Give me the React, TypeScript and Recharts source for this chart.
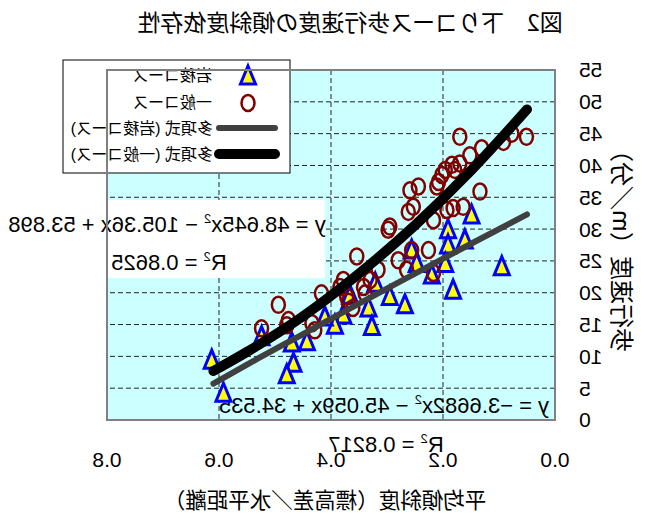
import React from 'react';
import { ScatterChart, Scatter, XAxis, YAxis, CartesianGrid, ReferenceArea, Customized } from 'recharts';

const title = '図2　下りコース歩行速度の傾斜度依存性';
const xAxisTitle = '平均傾斜度（標高差／水平距離）';
const yAxisTitle = '歩行速度（m／分）';
const seriesNames = ['岩稜コース', '一般コース', '多項式 (岩稜コース)', '多項式 (一般コース)'];

const xTicks = [0, 0.2, 0.4, 0.6, 0.8];
const yTicks = [0, 5, 10, 15, 20, 25, 30, 35, 40, 45, 50, 55];

// 岩稜コース (triangles)
const ganryoX = [0.149, 0.191, 0.191, 0.161, 0.256, 0.247, 0.196, 0.22, 0.095, 0.182, 0.295, 0.268, 0.321, 0.366, 0.333, 0.327, 0.378, 0.393, 0.411, 0.443, 0.47, 0.524, 0.467, 0.479, 0.613, 0.592];
const ganryoY = [32.2, 29.9, 27.5, 28.3, 26.7, 24.6, 24.6, 22.8, 24.1, 20.4, 19.4, 18.1, 21.5, 19.6, 17.6, 14.7, 16.5, 14.9, 16.2, 12.3, 12.1, 13.1, 8.9, 7.1, 9.4, 4.2];

// 一般コース (circles)
const ippanX = [0.17, 0.051, 0.077, 0.092, 0.131, 0.152, 0.17, 0.184, 0.179, 0.196, 0.202, 0.208, 0.211, 0.244, 0.259, 0.134, 0.253, 0.262, 0.164, 0.182, 0.193, 0.217, 0.295, 0.298, 0.256, 0.226, 0.28, 0.265, 0.217, 0.354, 0.316, 0.33, 0.342, 0.339, 0.378, 0.384, 0.417, 0.372, 0.369, 0.494, 0.476, 0.479, 0.434, 0.429, 0.524, 0.361];
const ippanY = [44.5, 44.5, 45.0, 43.7, 42.7, 41.6, 40.3, 40.1, 39.3, 39.3, 38.5, 37.4, 36.7, 36.7, 36.1, 35.9, 33.5, 32.7, 33.5, 33.3, 33.0, 31.4, 30.4, 29.9, 26.7, 26.7, 25.1, 23.6, 23.1, 25.7, 23.6, 22.0, 20.9, 19.9, 22.0, 20.9, 19.9, 19.4, 18.6, 18.1, 15.7, 14.9, 15.2, 14.1, 14.4, 17.6];

// trendlines
const trendX = [0.05, 0.15, 0.25, 0.35, 0.45, 0.55, 0.61];
const ganryoTrendY = [32.3, 27.7, 23.0, 18.3, 13.5, 8.7, 5.7];
const ippanTrendY = [48.8, 39.2, 30.6, 23.0, 16.3, 10.7, 7.7];

const ganryoEq = ['y = −3.6682x', ' − 45.059x + 34.535', 'R', ' = 0.8217'];
const ippanEq = ['y = 48.645x', ' − 105.36x + 53.898', 'R', ' = 0.8625'];

const ganryo = ganryoX.map((x, i) => ({ x, y: ganryoY[i] }));
const ippan = ippanX.map((x, i) => ({ x, y: ippanY[i] }));
const ganryoTrend = trendX.map((x, i) => ({ x, y: ganryoTrendY[i] }));
const ippanTrend = trendX.map((x, i) => ({ x, y: ippanTrendY[i] }));

const LATIN = "'Liberation Sans', Arial, 'Noto Sans CJK JP', sans-serif";
const CJK = "'Noto Sans CJK JP', sans-serif";

const Tri = ({ cx, cy }: any) => (
  <polygon
    points={`${cx},${cy - 10} ${cx - 7.5},${cy + 8} ${cx + 7.5},${cy + 8}`}
    fill="#ffff00"
    stroke="#0000ff"
    strokeWidth={3}
  />
);

const Circ = ({ cx, cy }: any) => (
  <ellipse cx={cx} cy={cy} rx={6.5} ry={8} fill="none" stroke="#800000" strokeWidth={2.5} />
);

const Empty = () => <g />;

const Overlay = () => (
  <g>
    {/* title */}
    <text x={297} y={31} textAnchor="middle" fontSize={23} fontFamily={CJK} fill="#000">{title}</text>
    {/* y axis title */}
    <text x={24} y={245} transform="rotate(-90, 24, 245)" textAnchor="middle" dominantBaseline="central" fontSize={24} fontFamily={CJK} fill="#000">{yAxisTitle}</text>
    {/* x axis title */}
    <text x={322} y={508} textAnchor="middle" fontSize={21.5} fontFamily={CJK} fill="#000">{xAxisTitle}</text>

    {/* 一般 equation with white box */}
    <rect x={322} y={200} width={325} height={78} fill="#ffffff" />
    <text x={480} y={232} textAnchor="middle" fontSize={22} fontFamily={LATIN} fill="#000">
      {ippanEq[0]}<tspan fontSize={13} dy={-9}>2</tspan><tspan dy={9}>{ippanEq[1]}</tspan>
    </text>
    <text x={478} y={270} textAnchor="middle" fontSize={22} fontFamily={LATIN} fill="#000">
      {ippanEq[2]}<tspan fontSize={13} dy={-9}>2</tspan><tspan dy={9}>{ippanEq[3]}</tspan>
    </text>

    {/* 岩稜 equation */}
    <text x={263} y={413} textAnchor="middle" fontSize={22} fontFamily={LATIN} fill="#000">
      {ganryoEq[0]}<tspan fontSize={13} dy={-9}>2</tspan><tspan dy={9}>{ganryoEq[1]}</tspan>
    </text>
    <text x={261} y={452} textAnchor="middle" fontSize={22} fontFamily={LATIN} fill="#000">
      {ganryoEq[2]}<tspan fontSize={13} dy={-9}>2</tspan><tspan dy={9}>{ganryoEq[3]}</tspan>
    </text>

    {/* legend */}
    <rect x={357} y={60} width={227} height={113} fill="#ffffff" stroke="#000" strokeWidth={1} />
    <Tri cx={399} cy={76} />
    <text x={435} y={75} dominantBaseline="central" fontSize={16} fontFamily={LATIN} fill="#000">{seriesNames[0]}</text>
    <Circ cx={399} cy={103} />
    <text x={435} y={102} dominantBaseline="central" fontSize={16} fontFamily={LATIN} fill="#000">{seriesNames[1]}</text>
    <line x1={372} y1={128} x2={428} y2={128} stroke="#404040" strokeWidth={6} strokeLinecap="round" />
    <text x={434} y={128} dominantBaseline="central" fontSize={16} fontFamily={LATIN} fill="#000">{seriesNames[2]}</text>
    <line x1={372} y1={154} x2={428} y2={154} stroke="#000000" strokeWidth={10} strokeLinecap="round" />
    <text x={434} y={154} dominantBaseline="central" fontSize={16} fontFamily={LATIN} fill="#000">{seriesNames[3]}</text>
  </g>
);

export default function App() {
  return (
    <div style={{ position: 'absolute', left: 0, top: 0, width: 647, height: 519, background: '#fff', transform: 'scaleX(-1)' }}>
      <ScatterChart width={647} height={519} margin={{ top: 70, right: 107, bottom: 39, left: 32 }}>
        <CartesianGrid fill="#ccffff" stroke="#222" strokeDasharray="5 3" />
        <XAxis
          type="number"
          dataKey="x"
          domain={[0, 0.8]}
          ticks={xTicks}
          interval={0}
          height={60}
          axisLine={false}
          tickLine={false}
          tickSize={0}
          tickMargin={32}
          tickFormatter={(v: number) => v.toFixed(1)}
          tick={{ fontSize: 21, fill: '#000', fontFamily: LATIN }}
        />
        <YAxis
          type="number"
          dataKey="y"
          domain={[0, 55]}
          ticks={yTicks}
          interval={0}
          width={60}
          axisLine={false}
          tickLine={false}
          tickSize={0}
          tickMargin={24}
          tick={{ fontSize: 21, fill: '#000', fontFamily: LATIN }}
        />
        <ReferenceArea x1={0} x2={0.8} y1={0} y2={55} fill="none" stroke="#808080" strokeWidth={2} />
        <Scatter data={ganryo} shape={Tri} isAnimationActive={false} />
        <Scatter data={ippan} shape={Circ} isAnimationActive={false} />
        <Scatter
          data={ganryoTrend}
          shape={Empty}
          line={{ stroke: '#404040', strokeWidth: 6, strokeLinecap: 'round' }}
          lineJointType="monotoneX"
          isAnimationActive={false}
        />
        <Scatter
          data={ippanTrend}
          shape={Empty}
          line={{ stroke: '#000000', strokeWidth: 10, strokeLinecap: 'round' }}
          lineJointType="monotoneX"
          isAnimationActive={false}
        />
        <Customized component={Overlay} />
      </ScatterChart>
    </div>
  );
}
